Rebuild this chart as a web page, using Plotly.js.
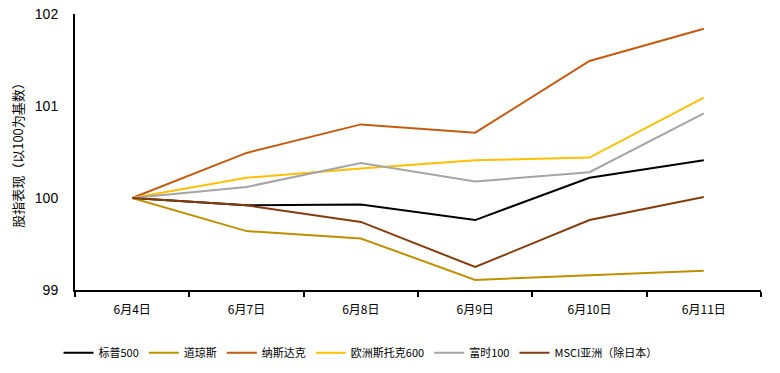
<!DOCTYPE html>
<html>
<head>
<meta charset="utf-8">
<script src="https://cdn.plot.ly/plotly-3.0.1.min.js"></script>
<style>html,body{margin:0;padding:0;background:#fff;}#chart{width:780px;height:373px;}</style>
</head>
<body>
<div id="chart"></div>
<script>
const categories = ["6月4日", "6月7日", "6月8日", "6月9日", "6月10日", "6月11日"];
const seriesNames = ["标普500", "道琼斯", "纳斯达克", "欧洲斯托克600", "富时100", "MSCI亚洲（除日本）"];
const sp500 = [100, 99.92, 99.93, 99.76, 100.22, 100.41];
const dowJones = [100, 99.64, 99.56, 99.11, 99.16, 99.21];
const nasdaq = [100, 100.49, 100.80, 100.71, 101.49, 101.84];
const stoxx600 = [100, 100.22, 100.32, 100.41, 100.44, 101.09];
const ftse100 = [100, 100.12, 100.38, 100.18, 100.28, 100.92];
const msciAsia = [100, 99.92, 99.74, 99.25, 99.76, 100.01];
const colors = ["#000000", "#BF9000", "#C55A11", "#FFC000", "#A5A5A5", "#843C0C"];
const allSeries = [sp500, dowJones, nasdaq, stoxx600, ftse100, msciAsia];

const font = "'Noto Sans CJK SC', 'Noto Sans', sans-serif";
const traces = allSeries.map((vals, i) => ({
  type: "scatter",
  mode: "lines",
  x: categories,
  y: vals,
  name: seriesNames[i],
  line: {color: colors[i], width: 2}
}));

const layout = {
  width: 780, height: 373,
  margin: {l: 75, r: 19, t: 14, b: 83},
  paper_bgcolor: "#fff", plot_bgcolor: "#fff",
  font: {family: font, color: "#000", size: 12},
  showlegend: true,
  legend: {
    orientation: "h",
    xref: "container", x: 0.075, xanchor: "left",
    yref: "container", y: 0.054, yanchor: "middle",
    font: {size: 11, family: font}, itemwidth: 30, tracegroupgap: 0
  },
  xaxis: {
    type: "category",
    range: [-0.5, 5.5],
    automargin: false,
    showline: true, linecolor: "#000", linewidth: 2,
    ticks: "outside", ticklen: 5, tickcolor: "#000", tickwidth: 2,
    tickson: "boundaries", ticklabelstandoff: 8,
    showgrid: false, zeroline: false,
    tickfont: {size: 12, family: font}
  },
  yaxis: {
    range: [99, 102],
    tickvals: [99, 100, 101, 102],
    automargin: false,
    showline: true, linecolor: "#000", linewidth: 2,
    ticks: "", showgrid: false, zeroline: false,
    ticklabelstandoff: 12,
    tickfont: {size: 14, family: "'Liberation Sans', Arial, sans-serif"},
    title: {text: "股指表现（以100为基数）", font: {size: 13, family: font}, standoff: 8}
  }
};

Plotly.newPlot("chart", traces, layout, {displayModeBar: false, staticPlot: true});
</script>
</body>
</html>
